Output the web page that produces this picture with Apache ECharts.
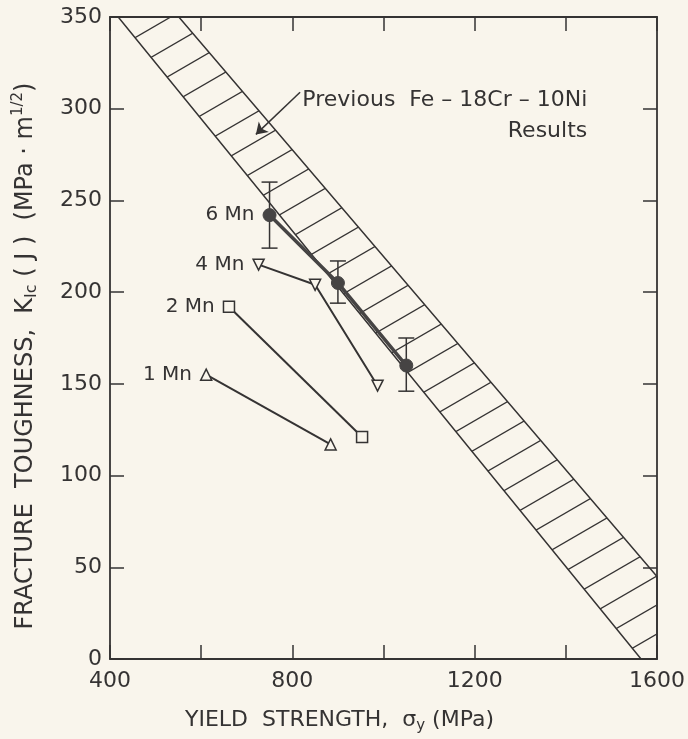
<!DOCTYPE html>
<html>
<head>
<meta charset="utf-8">
<script src="https://cdn.jsdelivr.net/npm/echarts@6/dist/echarts.min.js"></script>
<style>
  html, body { margin: 0; padding: 0; background: #f9f5ec; }
  #chart { width: 688px; height: 739px; }
</style>
</head>
<body>
<div id="chart"></div>
<script>
// yield strength (MPa) vs K_Ic(J) for each Mn content
const mn6X = [750, 900, 1050];
const mn6Y = [242, 205, 160];
const mn6Low = [224, 194, 146];
const mn6High = [260, 217, 175];
const mn4X = [726, 850, 987];
const mn4Y = [215, 204, 149];
const mn2X = [661, 953];
const mn2Y = [192, 121];
const mn1X = [611, 884];
const mn1Y = [155, 117];

// outline of the earlier Fe-18Cr-10Ni scatter band
const bandX = [418, 1565, 1600, 1600, 551];
const bandY = [350, 0, 0, 45, 350];

// note + arrow pointing at the band
const noteAt = [822, 296];
const arrowFrom = [817, 309];
const arrowTo = [720, 286];

const xLabels = [400, 800, 1200, 1600];

const ink = '#353333';
const bg = '#f9f5ec';
const font = 'DejaVu Sans';

// hatch tile for the band (lines rising to the right)
const hw = 50, hh = 29;
const hatch = document.createElement('canvas');
hatch.width = hw;
hatch.height = hh;
const g = hatch.getContext('2d');
g.strokeStyle = ink;
g.lineWidth = 1.3;
[-hh, 0, hh].forEach(off => {
  g.beginPath();
  g.moveTo(-hw, 2 * hh + off);
  g.lineTo(2 * hw, -hh + off);
  g.stroke();
});

function mnSeries(name, xs, ys, symbol, extra) {
  return Object.assign({
    name: name,
    type: 'line',
    data: xs.map((x, i) => [x, ys[i]]),
    symbol: symbol,
    symbolSize: 12,
    z: 5,
    lineStyle: { color: ink, width: 2 },
    itemStyle: { color: bg, borderColor: ink, borderWidth: 1.5 },
    label: {
      show: true,
      position: 'left',
      distance: 8,
      color: ink,
      fontFamily: font,
      fontSize: 20,
      formatter: p => (p.dataIndex === 0 ? name : '')
    }
  }, extra || {});
}

const axisLine = { onZero: false, lineStyle: { color: ink, width: 1.8 } };
const tick = { inside: true, length: 14, lineStyle: { color: ink, width: 1.5 } };

const chart = echarts.init(document.getElementById('chart'));
chart.setOption({
  backgroundColor: bg,
  animation: false,
  textStyle: { fontFamily: font, color: ink },
  grid: { left: 110, right: 26, top: 17, bottom: 75 },
  xAxis: [
    {
      type: 'value',
      min: 400,
      max: 1600,
      interval: 200,
      position: 'bottom',
      axisLine: axisLine,
      axisTick: tick,
      splitLine: { show: false },
      axisLabel: {
        color: ink,
        fontSize: 22,
        fontFamily: font,
        margin: 11,
        formatter: v => (xLabels.indexOf(v) >= 0 ? String(v) : '')
      },
      name: 'YIELD  STRENGTH,  σ{sub|y} (MPa)',
      nameLocation: 'middle',
      nameGap: 48,
      nameTextStyle: {
        color: ink,
        fontSize: 22,
        fontFamily: font,
        padding: [0, 88, 0, 0],
        rich: {
          sub: { fontSize: 15, fontFamily: font, color: ink, padding: [12, 0, 0, 0] }
        }
      }
    },
    {
      type: 'value',
      min: 400,
      max: 1600,
      interval: 200,
      position: 'top',
      axisLine: axisLine,
      axisTick: tick,
      axisLabel: { show: false },
      splitLine: { show: false }
    }
  ],
  yAxis: [
    {
      type: 'value',
      min: 0,
      max: 350,
      interval: 50,
      position: 'left',
      axisLine: axisLine,
      axisTick: tick,
      splitLine: { show: false },
      axisLabel: { color: ink, fontSize: 22, fontFamily: font, margin: 8 },
      name: 'FRACTURE  TOUGHNESS,  K{sub|Ic} ( J )  (MPa · m{sup|1/2})',
      nameLocation: 'middle',
      nameRotate: 90,
      nameGap: 70,
      nameTextStyle: {
        color: ink,
        fontSize: 24,
        fontFamily: font,
        padding: [0, 36, 0, 0],
        rich: {
          sub: { fontSize: 16, fontFamily: font, color: ink, padding: [12, 0, 0, 0] },
          sup: { fontSize: 15, fontFamily: font, color: ink, padding: [0, 0, 14, 0] }
        }
      }
    },
    {
      type: 'value',
      min: 0,
      max: 350,
      interval: 50,
      position: 'right',
      axisLine: axisLine,
      axisTick: tick,
      axisLabel: { show: false },
      splitLine: { show: false }
    }
  ],
  series: [
    {
      type: 'custom',
      silent: true,
      clip: true,
      z: 1,
      data: [[bandX[0], bandY[0]]],
      renderItem: (params, api) => {
        const pts = bandX.map((x, i) => api.coord([x, bandY[i]]));
        return {
          type: 'polygon',
          shape: { points: pts },
          style: {
            fill: { image: hatch, repeat: 'repeat' },
            stroke: ink,
            lineWidth: 1.5
          }
        };
      }
    },
    {
      type: 'custom',
      silent: true,
      z: 4,
      data: mn6X.map((x, i) => [x, mn6Low[i], mn6High[i]]),
      encode: { x: 0, y: [1, 2] },
      renderItem: (params, api) => {
        const x = api.value(0);
        const lo = api.coord([x, api.value(1)]);
        const hi = api.coord([x, api.value(2)]);
        const w = 8;
        const st = { stroke: ink, lineWidth: 1.5 };
        return {
          type: 'group',
          children: [
            { type: 'line', shape: { x1: lo[0], y1: lo[1], x2: hi[0], y2: hi[1] }, style: st },
            { type: 'line', shape: { x1: lo[0] - w, y1: lo[1], x2: lo[0] + w, y2: lo[1] }, style: st },
            { type: 'line', shape: { x1: hi[0] - w, y1: hi[1], x2: hi[0] + w, y2: hi[1] }, style: st }
          ]
        };
      }
    },
    mnSeries('6 Mn', mn6X, mn6Y, 'circle', {
      symbolSize: 13,
      lineStyle: { color: '#464444', width: 3.5 },
      itemStyle: { color: '#464444', borderColor: '#464444', borderWidth: 1 },
      z: 6
    }),
    mnSeries('4 Mn', mn4X, mn4Y, 'triangle', { symbolRotate: 180, symbolSize: 11 }),
    mnSeries('2 Mn', mn2X, mn2Y, 'rect', { symbolSize: 11 }),
    mnSeries('1 Mn', mn1X, mn1Y, 'triangle', { symbolSize: 11 }),
    {
      type: 'lines',
      coordinateSystem: 'cartesian2d',
      silent: true,
      z: 7,
      symbol: ['none', 'arrow'],
      symbolSize: [0, 11],
      lineStyle: { color: ink, width: 1.5, opacity: 1 },
      data: [{ coords: [arrowFrom, arrowTo] }]
    },
    {
      type: 'scatter',
      silent: true,
      symbolSize: 0,
      itemStyle: { opacity: 1 },
      data: [noteAt],
      label: {
        show: true,
        position: 'right',
        distance: 0,
        opacity: 1,
        color: ink,
        fontFamily: font,
        fontSize: 22,
        lineHeight: 31,
        formatter: '{a|Previous  Fe – 18Cr – 10Ni}\n{b|Results}',
        rich: {
          a: { fontFamily: font, fontSize: 22, color: ink, lineHeight: 31 },
          b: { fontFamily: font, fontSize: 22, color: ink, lineHeight: 31, align: 'right' }
        }
      }
    }
  ]
});
</script>
</body>
</html>
